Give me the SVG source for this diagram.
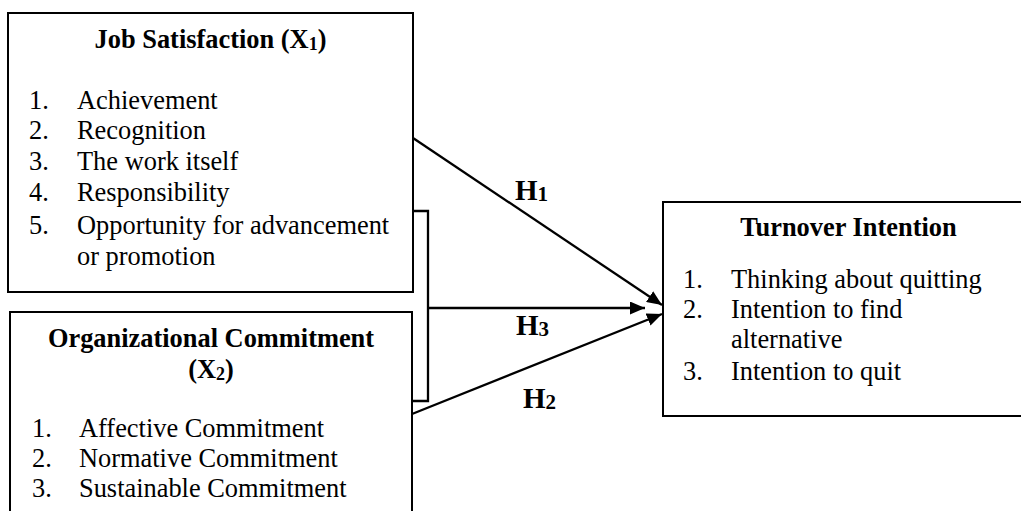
<svg xmlns="http://www.w3.org/2000/svg" width="1021" height="511" viewBox="0 0 1021 511">
<style>
.box{fill:#fff;stroke:#000;stroke-width:2}
.t{font-family:"Liberation Serif","Times New Roman",serif;font-size:26.4px;fill:#000}
.b{font-weight:bold}
.c{text-anchor:middle}
.h{font-family:"Liberation Serif","Times New Roman",serif;font-size:29px;font-weight:bold;fill:#000}
.ln{stroke:#000;stroke-width:2.3;fill:none}
</style>
<defs>
<marker id="ah" viewBox="0 0 15 13" refX="15" refY="6.5" markerWidth="15" markerHeight="13" markerUnits="userSpaceOnUse" orient="auto">
<path d="M0,0 L15,6.5 L0,13 Z" fill="#000"/>
</marker>
</defs>
<rect width="1021" height="511" fill="#fff"/>
<g id="job-satisfaction">
<rect class="box" x="8" y="13" width="405" height="279"/>
<text class="t b c" x="210.5" y="48">Job Satisfaction (X<tspan font-size="18" dy="2">1</tspan><tspan dy="-2">)</tspan></text>
<text class="t" x="29" y="109">1.</text><text class="t" x="77" y="109">Achievement</text>
<text class="t" x="29" y="139">2.</text><text class="t" x="77" y="139">Recognition</text>
<text class="t" x="29" y="170">3.</text><text class="t" x="77" y="170">The work itself</text>
<text class="t" x="29" y="201">4.</text><text class="t" x="77" y="201">Responsibility</text>
<text class="t" x="29" y="234">5.</text><text class="t" x="77" y="234">Opportunity for advancement</text>
<text class="t" x="77" y="265">or promotion</text>
</g>
<g id="organizational-commitment">
<rect class="box" x="10" y="312" width="402" height="220"/>
<text class="t b c" x="211" y="347">Organizational Commitment</text>
<text class="t b c" x="211" y="378">(X<tspan font-size="18" dy="2">2</tspan><tspan dy="-2">)</tspan></text>
<text class="t" x="32" y="437">1.</text><text class="t" x="79" y="437">Affective Commitment</text>
<text class="t" x="32" y="467">2.</text><text class="t" x="79" y="467">Normative Commitment</text>
<text class="t" x="32" y="497">3.</text><text class="t" x="79" y="497">Sustainable Commitment</text>
</g>
<g id="turnover-intention">
<rect class="box" x="663" y="202" width="380" height="214"/>
<text class="t b c" x="848.5" y="236">Turnover Intention</text>
<text class="t" x="683" y="288">1.</text><text class="t" x="731" y="288">Thinking about quitting</text>
<text class="t" x="683" y="318">2.</text><text class="t" x="731" y="318">Intention to find</text>
<text class="t" x="731" y="348">alternative</text>
<text class="t" x="683" y="380">3.</text><text class="t" x="731" y="380">Intention to quit</text>
</g>
<g id="connectors">
<polyline class="ln" points="413,211 428,211 428,401 412,401"/>
<line class="ln" x1="413" y1="138" x2="662" y2="305" marker-end="url(#ah)"/>
<line class="ln" x1="428" y1="308" x2="645" y2="308" marker-end="url(#ah)"/>
<line class="ln" x1="412" y1="414" x2="662" y2="314" marker-end="url(#ah)"/>
<text class="h" x="515" y="200">H<tspan font-size="21" dy="1">1</tspan></text>
<text class="h" x="516" y="335">H<tspan font-size="21" dy="1">3</tspan></text>
<text class="h" x="523" y="408">H<tspan font-size="21" dy="1">2</tspan></text>
</g>
</svg>
